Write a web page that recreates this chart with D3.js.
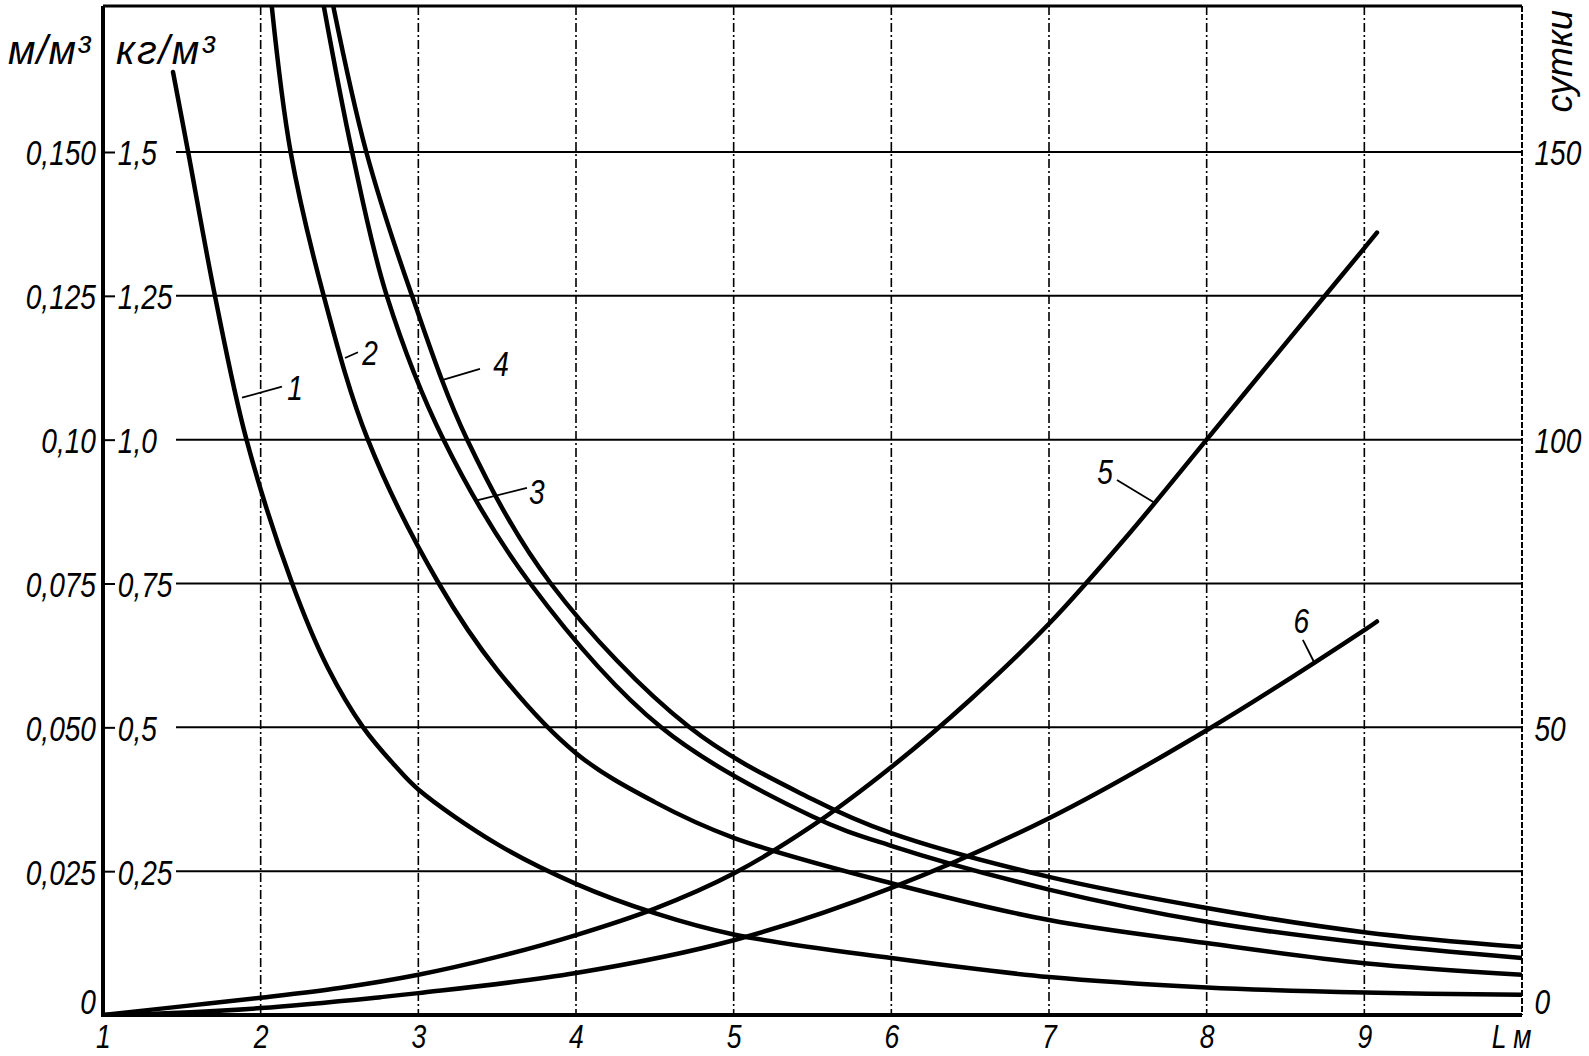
<!DOCTYPE html>
<html>
<head>
<meta charset="utf-8">
<script src="https://cdn.jsdelivr.net/npm/d3@7"></script>
<style>
  html, body { margin: 0; padding: 0; background: #fff; }
  svg { display: block; }
  .lbl { font-family: "Liberation Sans", Arial, sans-serif; font-style: italic; fill: #000; }
</style>
</head>
<body>
<svg id="chart" width="1589" height="1056"></svg>
<script>
// ---------- data ----------
const xTicks = [1, 2, 3, 4, 5, 6, 7, 8, 9, 10];
const xTickLabels = ["1", "2", "3", "4", "5", "6", "7", "8", "9", "L м"];
const leftTicks = [0, 0.25, 0.5, 0.75, 1.0, 1.25, 1.5];
const leftOuterLabels = ["0", "0,025", "0,050", "0,075", "0,10", "0,125", "0,150"];
const innerTicks = [0.25, 0.5, 0.75, 1.0, 1.25, 1.5];
const innerLabels = ["0,25", "0,5", "0,75", "1,0", "1,25", "1,5"];
const rightTicks = [0, 50, 100, 150];
const rightLabels = ["0", "50", "100", "150"];

// curves 1-4: кг/м³ (left axis) vs L
const c1L = [1.444, 1.54, 1.71, 1.91, 2.2, 2.425, 2.65, 2.85, 3.0, 3.5, 4.0, 4.5, 5.0, 6.0, 7.0, 8.0, 9.0, 10.0];
const c1V = [1.639, 1.5, 1.25, 1.0, 0.75, 0.604, 0.5, 0.434, 0.392, 0.297, 0.228, 0.177, 0.140, 0.099, 0.066, 0.048, 0.039, 0.035];
const c2L = [2.07, 2.19, 2.40, 2.68, 3.13, 3.5, 4.0, 4.5, 5.0, 6.0, 7.0, 8.0, 9.0, 10.0];
const c2V = [1.754, 1.5, 1.25, 1.0, 0.75, 0.60, 0.455, 0.370, 0.308, 0.229, 0.165, 0.125, 0.090, 0.070];
const c3L = [2.40, 2.58, 2.80, 3.16, 3.71, 4.54, 5.5, 6.0, 7.0, 8.0, 9.0, 10.0];
const c3V = [1.754, 1.5, 1.25, 1.0, 0.75, 0.5, 0.345, 0.294, 0.218, 0.162, 0.125, 0.099];
const c4L = [2.46, 2.67, 2.96, 3.31, 3.84, 4.72, 5.5, 6.0, 7.0, 8.0, 9.0, 10.0];
const c4V = [1.754, 1.5, 1.25, 1.0, 0.75, 0.5, 0.375, 0.316, 0.240, 0.186, 0.144, 0.118];
// curves 5-6: сутки (right axis) vs L
const c5L = [1.0, 1.5, 2.0, 2.5, 3.0, 3.5, 4.0, 4.5, 5.0, 5.5, 6.0, 6.5, 7.0, 7.5, 8.0, 8.5, 9.0, 9.08];
const c5V = [0, 1.5, 3.0, 4.7, 7.0, 10.1, 13.9, 18.5, 24.6, 32.9, 43.1, 54.8, 68.0, 83.4, 100, 116.7, 133.3, 136.0];
const c6L = [1.0, 1.4, 2.0, 2.76, 3.0, 4.0, 5.0, 6.0, 7.0, 8.0, 9.0, 9.08];
const c6V = [0, 0.3, 1.2, 3.1, 3.8, 7.3, 13.0, 22.1, 34.2, 49.5, 66.9, 68.4];

// curve number annotations: [text, labelL, labelV, leaderFromL, leaderFromV, leaderToL, leaderToV, axis]
const annotations = [
  ["1", 2.218, 1.092, 1.882, 1.073, 2.135, 1.092, "L"],
  ["2", 2.693, 1.152, 2.535, 1.142, 2.617, 1.152, "L"],
  ["4", 3.524, 1.133, 3.156, 1.104, 3.391, 1.123, "L"],
  ["3", 3.752, 0.911, 3.378, 0.895, 3.689, 0.916, "L"],
  ["5", 7.355, 94.6, 7.672, 89.0, 7.431, 93.0, "R"],
  ["6", 8.60, 68.7, 8.68, 61.4, 8.61, 65.2, "R"]
];

// ---------- layout ----------
const svg = d3.select("#chart");
const pL = 103, pR = 1522, pB = 1015, pT = 6;
const x = d3.scaleLinear().domain([1, 10]).range([pL, pR]);
const yL = d3.scaleLinear().domain([0, 1.5]).range([pB, 152]);
const yR = d3.scaleLinear().domain([0, 150]).range([pB, 152]);
const fs = 36, sx = 0.78;

// clip
svg.append("defs").append("clipPath").attr("id", "plot")
  .append("rect").attr("x", pL).attr("y", pT).attr("width", pR - pL).attr("height", pB - pT);

// grid
const grid = svg.append("g");
grid.selectAll("line.h").data(innerTicks).join("line").attr("class", "h")
  .attr("x1", 176).attr("x2", pR)
  .attr("y1", d => yL(d)).attr("y2", d => yL(d))
  .attr("stroke", "#000").attr("stroke-width", 2);
grid.selectAll("line.v").data(xTicks.slice(1, -1)).join("line").attr("class", "v")
  .attr("x1", d => x(d)).attr("x2", d => x(d))
  .attr("y1", pT).attr("y2", pB)
  .attr("stroke", "#000").attr("stroke-width", 1.6)
  .attr("stroke-dasharray", "9,3,2,3");

// frame
svg.append("line").attr("x1", pL).attr("x2", pR).attr("y1", pT).attr("y2", pT)
  .attr("stroke", "#000").attr("stroke-width", 3);
svg.append("line").attr("x1", pR).attr("x2", pR).attr("y1", pT).attr("y2", pB)
  .attr("stroke", "#000").attr("stroke-width", 2).attr("stroke-dasharray", "6,2");
svg.append("line").attr("x1", pL).attr("x2", pL).attr("y1", pT).attr("y2", pB + 2)
  .attr("stroke", "#000").attr("stroke-width", 4);
svg.append("line").attr("x1", pL).attr("x2", pR).attr("y1", pB).attr("y2", pB)
  .attr("stroke", "#000").attr("stroke-width", 4);

function styleAxis(g) {
  g.select(".domain").remove();
  g.attr("font-family", null).attr("font-size", null);
  g.selectAll("text").attr("class", "lbl").attr("font-size", fs)
    .attr("transform", `scale(${sx},1)`);
  g.selectAll(".tick line").attr("stroke", "#000").attr("stroke-width", 2);
}

// left outer axis (м/м³)
svg.append("g").attr("transform", `translate(${pL},0)`)
  .call(d3.axisLeft(yL).tickValues(leftTicks).tickSize(0).tickPadding(9)
    .tickFormat((d, i) => leftOuterLabels[i]))
  .call(styleAxis)
  .selectAll("text").attr("dy", d => d === 0 ? "-0.05em" : "0.36em");

// left inner axis (кг/м³)
svg.append("g").attr("transform", `translate(${pL},0)`)
  .call(d3.axisRight(yL).tickValues(innerTicks).tickSize(12).tickPadding(7)
    .tickFormat((d, i) => innerLabels[i]))
  .call(styleAxis)
  .selectAll("text").attr("dy", "0.36em");

// right axis (сутки)
svg.append("g").attr("transform", `translate(${pR},0)`)
  .call(d3.axisRight(yR).tickValues(rightTicks).tickSize(0).tickPadding(16)
    .tickFormat((d, i) => rightLabels[i]))
  .call(styleAxis)
  .selectAll("text").attr("dy", d => d === 0 ? "-0.05em" : "0.36em");

// bottom axis
const bx = svg.append("g").attr("transform", `translate(0,${pB})`)
  .call(d3.axisBottom(x).tickValues(xTicks).tickSize(0).tickPadding(10)
    .tickFormat((d, i) => xTickLabels[i]))
  .call(styleAxis);
bx.selectAll("text").attr("font-size", 34).attr("dy", 23)
  .attr("x", d => d === 10 ? -14 : 0);

// axis titles
svg.append("text").attr("class", "lbl").attr("x", 8).attr("y", 64)
  .attr("font-size", 40).attr("letter-spacing", 1).text("м/м³");
svg.append("text").attr("class", "lbl").attr("x", 116).attr("y", 64)
  .attr("font-size", 40).attr("letter-spacing", 2).text("кг/м³");
svg.append("text").attr("class", "lbl")
  .attr("transform", `translate(1572,10) rotate(-90)`)
  .attr("text-anchor", "end").attr("font-size", 36).text("сутки");

// curves
const curvesLeft = [[c1L, c1V], [c2L, c2V], [c3L, c3V], [c4L, c4V]];
const curvesRight = [[c5L, c5V], [c6L, c6V]];
const lineL = d3.line().x(d => x(d[0])).y(d => yL(d[1])).curve(d3.curveCatmullRom.alpha(0.5));
const lineR = d3.line().x(d => x(d[0])).y(d => yR(d[1])).curve(d3.curveCatmullRom.alpha(0.5));
const cg = svg.append("g").attr("clip-path", "url(#plot)");
curvesLeft.forEach(([Ls, Vs]) => {
  cg.append("path").datum(Ls.map((l, i) => [l, Vs[i]]))
    .attr("d", lineL).attr("fill", "none").attr("stroke", "#000")
    .attr("stroke-width", 4.5).attr("stroke-linecap", "round");
});
curvesRight.forEach(([Ls, Vs]) => {
  cg.append("path").datum(Ls.map((l, i) => [l, Vs[i]]))
    .attr("d", lineR).attr("fill", "none").attr("stroke", "#000")
    .attr("stroke-width", 4.5).attr("stroke-linecap", "round");
});

// annotations
annotations.forEach(a => {
  const ys = a[7] === "L" ? yL : yR;
  svg.append("line")
    .attr("x1", x(a[3])).attr("y1", ys(a[4]))
    .attr("x2", x(a[5])).attr("y2", ys(a[6]))
    .attr("stroke", "#000").attr("stroke-width", 1.8);
  svg.append("g").attr("transform", `translate(${x(a[1])},${ys(a[2])})`)
    .append("text").attr("class", "lbl")
    .attr("transform", `scale(${sx},1)`)
    .attr("text-anchor", "middle").attr("dy", "0.36em")
    .attr("font-size", fs).text(a[0]);
});
</script>
</body>
</html>
